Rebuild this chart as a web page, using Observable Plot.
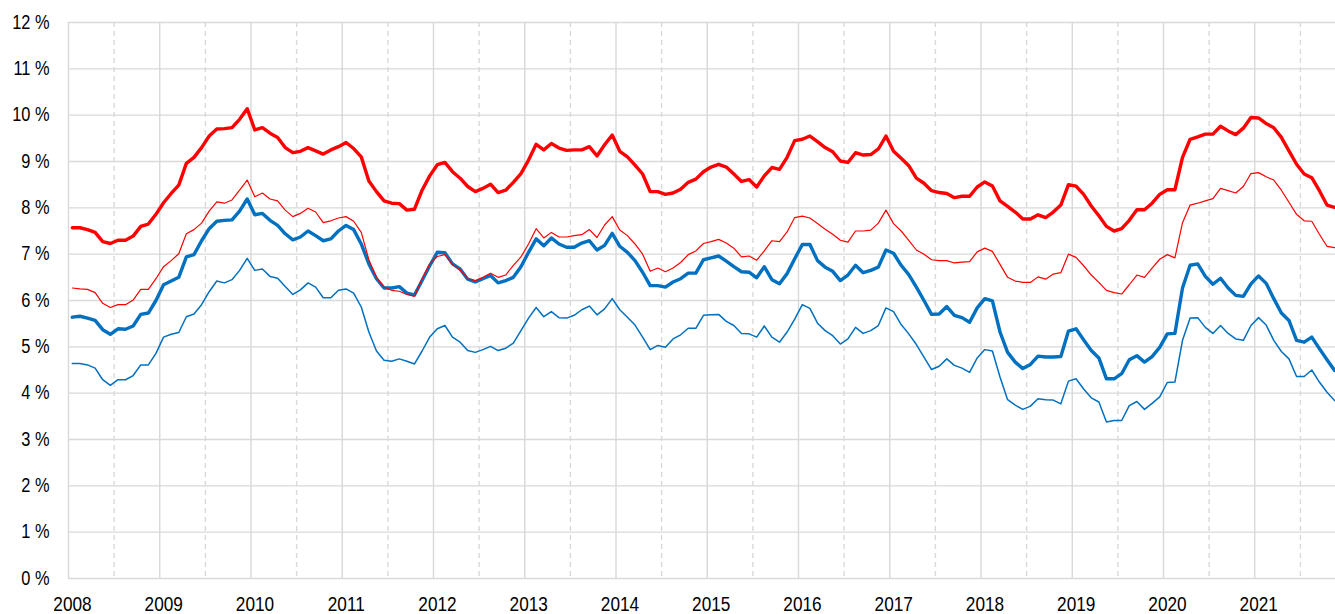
<!DOCTYPE html>
<html>
<head>
<meta charset="utf-8">
<script src="https://cdn.jsdelivr.net/npm/d3@7"></script>
<script src="https://cdn.jsdelivr.net/npm/@observablehq/plot@0.6"></script>
<style>
  html, body { margin: 0; padding: 0; background: #fff; }
  #chart { width: 1335px; height: 614px; overflow: hidden; }
</style>
</head>
<body>
<div id="chart"></div>
<script>
// Monthly series, Jan 2008 .. Nov 2021 (values in %)
const startYear = 2008;

const redThick = [
  7.57, 7.57, 7.53, 7.47, 7.27, 7.23, 7.30, 7.30, 7.39, 7.60, 7.65, 7.86,
  8.11, 8.31, 8.49, 8.96, 9.09, 9.30, 9.55, 9.70, 9.71, 9.73, 9.91, 10.14,
  9.68, 9.73, 9.61, 9.52, 9.30, 9.19, 9.22, 9.30, 9.23, 9.16, 9.25, 9.32,
  9.41, 9.28, 9.10, 8.58, 8.35, 8.15, 8.10, 8.09, 7.95, 7.97, 8.38, 8.69,
  8.93, 8.98, 8.78, 8.64, 8.46, 8.35, 8.42, 8.51, 8.33, 8.38, 8.55, 8.74,
  9.03, 9.37, 9.25, 9.39, 9.29, 9.24, 9.25, 9.25, 9.32, 9.12, 9.36, 9.57,
  9.22, 9.10, 8.92, 8.73, 8.35, 8.35, 8.29, 8.32, 8.40, 8.55, 8.62, 8.78,
  8.88, 8.94, 8.88, 8.73, 8.57, 8.61, 8.45, 8.69, 8.87, 8.83, 9.09, 9.45,
  9.48, 9.55, 9.43, 9.30, 9.21, 9.01, 8.98, 9.19, 9.14, 9.15, 9.27, 9.55,
  9.22, 9.07, 8.91, 8.64, 8.53, 8.37, 8.33, 8.31, 8.22, 8.25, 8.25, 8.45,
  8.56, 8.47, 8.15, 8.03, 7.91, 7.76, 7.76, 7.85, 7.79, 7.91, 8.06, 8.50,
  8.47, 8.29, 8.04, 7.83, 7.60, 7.50, 7.55, 7.73, 7.96, 7.96, 8.10, 8.29,
  8.39, 8.39, 9.09, 9.48, 9.53, 9.59, 9.59, 9.76, 9.66, 9.58, 9.72, 9.95,
  9.94, 9.82, 9.73, 9.52, 9.23, 8.94, 8.73, 8.65, 8.37, 8.06, 8.01
];

const redThin = [
  6.27, 6.25, 6.24, 6.17, 5.94, 5.85, 5.91, 5.91, 6.01, 6.24, 6.24, 6.47,
  6.73, 6.86, 7.01, 7.44, 7.53, 7.67, 7.93, 8.13, 8.10, 8.17, 8.38, 8.60,
  8.24, 8.32, 8.19, 8.15, 7.95, 7.81, 7.88, 7.99, 7.91, 7.68, 7.72, 7.78,
  7.81, 7.71, 7.47, 6.88, 6.50, 6.29, 6.22, 6.20, 6.13, 6.09, 6.47, 6.79,
  6.95, 6.99, 6.78, 6.66, 6.47, 6.43, 6.50, 6.59, 6.50, 6.55, 6.76, 6.94,
  7.22, 7.55, 7.35, 7.47, 7.37, 7.37, 7.40, 7.42, 7.53, 7.36, 7.63, 7.81,
  7.52, 7.40, 7.22, 7.00, 6.63, 6.70, 6.62, 6.70, 6.82, 6.99, 7.07, 7.23,
  7.27, 7.32, 7.24, 7.13, 6.94, 6.96, 6.87, 7.07, 7.29, 7.27, 7.48, 7.79,
  7.82, 7.78, 7.66, 7.54, 7.43, 7.30, 7.26, 7.50, 7.50, 7.52, 7.67, 7.95,
  7.66, 7.50, 7.30, 7.09, 7.00, 6.88, 6.86, 6.86, 6.81, 6.83, 6.84, 7.05,
  7.13, 7.06, 6.78, 6.50, 6.42, 6.39, 6.39, 6.51, 6.46, 6.57, 6.60, 7.00,
  6.93, 6.75, 6.55, 6.39, 6.22, 6.17, 6.14, 6.34, 6.55, 6.50, 6.70, 6.89,
  6.99, 6.92, 7.68, 8.06, 8.10, 8.15, 8.20, 8.42, 8.37, 8.32, 8.46, 8.74,
  8.76, 8.67, 8.60, 8.38, 8.12, 7.86, 7.72, 7.71, 7.43, 7.17, 7.14
];

const blueThick = [
  5.64, 5.66, 5.62, 5.57, 5.37, 5.27, 5.39, 5.38, 5.45, 5.70, 5.73, 6.00,
  6.34, 6.42, 6.50, 6.94, 6.99, 7.29, 7.55, 7.71, 7.73, 7.74, 7.93, 8.19,
  7.85, 7.88, 7.73, 7.62, 7.44, 7.31, 7.37, 7.50, 7.40, 7.29, 7.33, 7.50,
  7.62, 7.53, 7.22, 6.79, 6.47, 6.27, 6.27, 6.30, 6.16, 6.12, 6.43, 6.75,
  7.04, 7.03, 6.79, 6.68, 6.46, 6.40, 6.47, 6.54, 6.38, 6.43, 6.50, 6.73,
  7.04, 7.33, 7.18, 7.35, 7.22, 7.15, 7.15, 7.24, 7.29, 7.09, 7.19, 7.45,
  7.17, 7.04, 6.86, 6.61, 6.32, 6.32, 6.29, 6.40, 6.47, 6.59, 6.59, 6.88,
  6.92, 6.96, 6.85, 6.73, 6.62, 6.61, 6.49, 6.73, 6.45, 6.36, 6.58, 6.90,
  7.21, 7.21, 6.86, 6.72, 6.63, 6.43, 6.55, 6.76, 6.60, 6.65, 6.72, 7.09,
  7.02, 6.76, 6.56, 6.29, 6.00, 5.70, 5.71, 5.87, 5.68, 5.63, 5.53, 5.84,
  6.04, 5.99, 5.32, 4.88, 4.67, 4.53, 4.62, 4.80, 4.78, 4.78, 4.79, 5.34,
  5.39, 5.15, 4.92, 4.76, 4.31, 4.31, 4.42, 4.72, 4.81, 4.67, 4.79, 4.99,
  5.28, 5.29, 6.27, 6.76, 6.79, 6.52, 6.35, 6.48, 6.27, 6.11, 6.09, 6.36,
  6.53, 6.37, 6.04, 5.73, 5.57, 5.14, 5.10, 5.21, 4.96, 4.72, 4.49
];

const blueThin = [
  4.64, 4.64, 4.61, 4.54, 4.29, 4.17, 4.29, 4.29, 4.38, 4.61, 4.61, 4.86,
  5.21, 5.27, 5.31, 5.65, 5.71, 5.91, 6.19, 6.42, 6.38, 6.45, 6.65, 6.91,
  6.65, 6.68, 6.52, 6.48, 6.30, 6.13, 6.23, 6.38, 6.29, 6.06, 6.06, 6.22,
  6.25, 6.16, 5.86, 5.32, 4.91, 4.71, 4.69, 4.74, 4.69, 4.63, 4.91, 5.21,
  5.39, 5.46, 5.21, 5.10, 4.92, 4.88, 4.94, 5.01, 4.92, 4.97, 5.08, 5.35,
  5.62, 5.85, 5.65, 5.76, 5.63, 5.62, 5.68, 5.80, 5.88, 5.69, 5.82, 6.04,
  5.80, 5.64, 5.47, 5.21, 4.94, 5.03, 4.99, 5.17, 5.26, 5.40, 5.40, 5.68,
  5.69, 5.70, 5.55, 5.46, 5.29, 5.28, 5.21, 5.45, 5.21, 5.10, 5.32, 5.60,
  5.91, 5.83, 5.51, 5.35, 5.24, 5.06, 5.17, 5.42, 5.29, 5.35, 5.46, 5.84,
  5.76, 5.48, 5.28, 5.05, 4.78, 4.51, 4.58, 4.74, 4.60, 4.54, 4.45, 4.76,
  4.94, 4.91, 4.35, 3.86, 3.74, 3.65, 3.72, 3.88, 3.86, 3.85, 3.77, 4.26,
  4.31, 4.09, 3.90, 3.81, 3.38, 3.41, 3.41, 3.73, 3.82, 3.65, 3.78, 3.92,
  4.23, 4.24, 5.14, 5.62, 5.63, 5.42, 5.29, 5.46, 5.29, 5.17, 5.14, 5.46,
  5.63, 5.47, 5.14, 4.90, 4.74, 4.36, 4.36, 4.50, 4.24, 4.02, 3.84
];

const yearTicks = [2008, 2009, 2010, 2011, 2012, 2013, 2014, 2015, 2016, 2017, 2018, 2019, 2020, 2021];
const yTicks = [0, 1, 2, 3, 4, 5, 6, 7, 8, 9, 10, 11, 12];

// tidy rows: month index -> fractional year at mid-month
const toRows = (arr) => arr.map((v, i) => ({t: startYear + (i + 0.5) / 12, v}));
const halfYears = yearTicks.map(y => y + 0.5);

const W = 1335, H = 614, ML = 68, MR = 0, MT = 22, MB = 36;
const yearPx = 91.25;
const xMax = startYear + (W - ML - MR) / yearPx;

const grid = "#d9d9d9";
const font = "'Liberation Sans Narrow','Arial Narrow','Liberation Sans',Arial,sans-serif";

const chart = Plot.plot({
  width: W,
  height: H,
  marginLeft: ML,
  marginRight: MR,
  marginTop: MT,
  marginBottom: MB,
  style: {fontFamily: font, fontSize: "20px", color: "#000", background: "#fff", overflow: "visible"},
  x: {domain: [startYear, xMax], axis: null},
  y: {domain: [0, 12], axis: null},
  marks: [
    Plot.ruleY(yTicks, {stroke: grid, strokeWidth: 1.4}),
    Plot.ruleX(halfYears, {stroke: grid, strokeWidth: 1.4, strokeDasharray: "5,4"}),
    Plot.ruleX(yearTicks, {stroke: grid, strokeWidth: 1.4}),
    Plot.axisY(yTicks, {label: null, tickSize: 0, tickPadding: 19, tickFormat: d => d + " %", fontSize: 19.5, fill: "#000"}),
    Plot.axisX(yearTicks, {label: null, tickSize: 0, tickPadding: 18, tickFormat: d => String(d), fontSize: 20.5, dx: 4, fill: "#000"}),
    Plot.line(toRows(blueThick), {x: "t", y: "v", stroke: "#0070C0", strokeWidth: 3.4, strokeLinejoin: "round", strokeLinecap: "round"}),
    Plot.line(toRows(blueThin), {x: "t", y: "v", stroke: "#0070C0", strokeWidth: 1.5, strokeLinejoin: "round"}),
    Plot.line(toRows(redThick), {x: "t", y: "v", stroke: "#FF0000", strokeWidth: 3.4, strokeLinejoin: "round", strokeLinecap: "round"}),
    Plot.line(toRows(redThin), {x: "t", y: "v", stroke: "#FF0000", strokeWidth: 1.2, strokeLinejoin: "round"})
  ]
});

document.getElementById("chart").appendChild(chart);

// emulate the narrow typeface of the original if no narrow font is installed:
// compress the glyphs horizontally so the labels keep the original widths
function hasFont(name) {
  const c = document.createElement("canvas").getContext("2d");
  const s = "2008 12 % abcdefghij";
  c.font = "20px monospace";
  const a = c.measureText(s).width;
  c.font = `20px '${name}', monospace`;
  const b = c.measureText(s).width;
  return a !== b;
}
if (!hasFont("Liberation Sans Narrow") && !hasFont("Arial Narrow")) {
  chart.querySelectorAll('g[aria-label="y-axis tick label"] text, g[aria-label="x-axis tick label"] text').forEach(t => {
    const len = t.getComputedTextLength();
    if (len > 0) {
      t.setAttribute("textLength", (len * 0.84).toFixed(2));
      t.setAttribute("lengthAdjust", "spacingAndGlyphs");
    }
  });
}
</script>
</body>
</html>
